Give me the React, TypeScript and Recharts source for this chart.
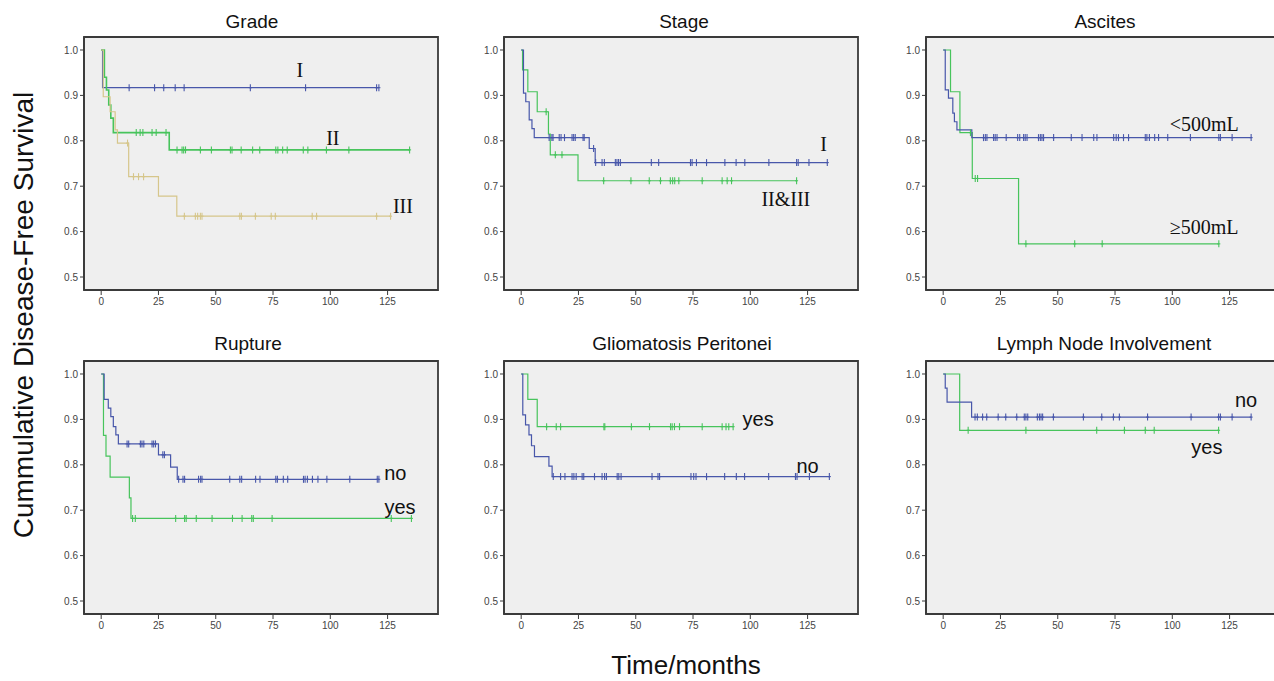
import React from 'react';
import { LineChart, Line, XAxis, YAxis, ReferenceArea, ReferenceDot } from 'recharts';

// ---------- axis settings ----------
const X_TICKS = [0, 25, 50, 75, 100, 125];
const Y_TICKS = [0.5, 0.6, 0.7, 0.8, 0.9, 1.0];
const XMIN = -7.5;
const XMAX = 147;
const YMIN = 0.4714;
const YMAX = 1.0286;

const BLUE = '#4857aa';
const GREEN = '#47c45c';
const TAN = '#d6c68b';

// ---------- Grade ----------
const gradeI_t = [0, 0.6];
const gradeI_s = [1.0, 0.917];
const gradeI_c = [12.2, 23.3, 27.3, 32.3, 36.2, 65.1, 89.2, 120.2, 121.2];
const gradeII_t = [0, 1.4, 2.3, 3.3, 4.2, 5.3, 29.7];
const gradeII_s = [1.0, 0.94, 0.912, 0.879, 0.85, 0.818, 0.78];
const gradeII_c = [15.3, 17, 18.2, 22.2, 24, 28.3, 33.1, 35.3, 36, 36.8, 43.3, 48.1, 56.4, 57.1, 61.1, 66.1, 69.2, 76.2, 77.1, 79.2, 81.2, 88.2, 90.2, 98.3, 108.1, 134.6];
const gradeIII_t = [0, 0.9, 3.9, 6.1, 7.1, 12, 25, 33];
const gradeIII_s = [1.0, 0.897, 0.864, 0.824, 0.795, 0.721, 0.678, 0.634];
const gradeIII_c = [11.5, 14.1, 16.3, 18.5, 36.3, 41.1, 42.1, 43.3, 44, 60.5, 61.2, 67.3, 74.2, 76, 92.1, 94, 120.2, 126.3];

// ---------- Stage ----------
const stageI_t = [0, 1.0, 2.0, 3.5, 4.7, 5.7, 29.7, 32.3];
const stageI_s = [1.0, 0.905, 0.886, 0.846, 0.827, 0.807, 0.783, 0.752];
const stageI_c = [12.2, 13.4, 13.9, 16.6, 17.4, 18.9, 22.2, 22.9, 23.6, 27, 27.5, 31.6, 32.5, 35.3, 36.3, 41.1, 41.8, 42.5, 43.3, 56.8, 60, 73.9, 74.6, 76.5, 80.9, 88.9, 93.8, 97.6, 108.1, 120.2, 120.9, 125.6, 133.6];
const stageII_t = [0, 0.6, 2.9, 7.0, 11.9, 12.7, 24.8];
const stageII_s = [1.0, 0.956, 0.908, 0.864, 0.815, 0.769, 0.712];
const stageII_c = [10.9, 14.9, 17.8, 36, 47.9, 55.9, 60.8, 65.1, 66.1, 67, 68.8, 79, 87.7, 89.9, 91.8, 120.2];

// ---------- Ascites ----------
const ascLow_t = [0, 0.9, 2.3, 4.2, 4.9, 6.0, 12.5];
const ascLow_s = [1.0, 0.912, 0.894, 0.861, 0.842, 0.824, 0.807];
const ascLow_c = [17.6, 18.4, 19.1, 22, 22.7, 23.5, 27.5, 32.5, 33.4, 35.1, 35.8, 36.6, 41.6, 42.4, 43.1, 43.8, 48.2, 55.9, 60.6, 65.7, 67.1, 74.4, 75.5, 76.5, 78.7, 80.9, 88.2, 88.9, 90, 92.3, 94, 98, 107.9, 120.3, 121, 126.1, 134.4];
const ascHigh_t = [0, 3.2, 7.3, 12.7, 32.9];
const ascHigh_s = [1.0, 0.908, 0.818, 0.717, 0.573];
const ascHigh_c = [11.9, 14, 15, 36.1, 57.4, 69.4, 120.3];

// ---------- Rupture ----------
const rupNo_t = [0, 1.3, 3.1, 4.2, 5.3, 6.4, 7.5, 25, 30.3, 33.2];
const rupNo_s = [1.0, 0.944, 0.925, 0.906, 0.884, 0.866, 0.846, 0.822, 0.795, 0.768];
const rupNo_c = [11.3, 12, 17.1, 17.8, 18.6, 22.2, 22.9, 23.7, 26.9, 27.6, 33.8, 35.7, 36.4, 42.5, 43.4, 44, 56.1, 60.5, 61.3, 67.4, 69.3, 76.2, 76.9, 79.5, 81.4, 88.3, 89, 90, 92.2, 94.6, 98.5, 108.5, 120.5, 121.2];
const rupYes_t = [0, 1.0, 2.1, 3.9, 12.3, 13];
const rupYes_s = [1.0, 0.865, 0.819, 0.773, 0.727, 0.682];
const rupYes_c = [13.7, 14.9, 32.5, 36.4, 37.1, 41.5, 48.4, 57.3, 61.5, 65.7, 66.4, 74.6, 126.6, 135.4];

// ---------- Gliomatosis Peritonei ----------
const glioYes_t = [0, 2.9, 7.0];
const glioYes_s = [1.0, 0.944, 0.884];
const glioYes_c = [11.1, 15.3, 17.2, 36.1, 36.5, 48.1, 56, 65.2, 65.9, 66.9, 69.1, 79, 87.7, 89.4, 90.6, 92.5];
const glioNo_t = [0, 0.7, 1.9, 3.4, 4.5, 5.8, 12.1, 13.5];
const glioNo_s = [1.0, 0.91, 0.888, 0.866, 0.842, 0.818, 0.797, 0.774];
const glioNo_c = [14, 17.2, 19.1, 22.2, 23, 24, 26.6, 27.3, 32, 35.3, 36.4, 37.2, 41.9, 42.6, 43.6, 57.1, 59.7, 60.4, 74.1, 75.3, 76.3, 80.9, 88.8, 93.9, 97.5, 108, 119.7, 120.4, 125.8, 134.5];

// ---------- Lymph Node Involvement ----------
const lymNo_t = [0, 0.9, 1.7, 12.4];
const lymNo_s = [1.0, 0.969, 0.938, 0.905];
const lymNo_c = [13.9, 14.9, 17.2, 19, 24, 27.3, 32.1, 35.4, 36.1, 36.9, 41.1, 42, 42.7, 43.4, 48.1, 61.2, 69.2, 74.3, 76.9, 89.2, 108.2, 120.2, 121, 126.1, 134.4];
const lymYes_t = [0, 7.2];
const lymYes_s = [1.0, 0.876];
const lymYes_c = [10.9, 36.1, 67, 79.1, 88.2, 92.1, 120.2];

type Series = { t: number[]; s: number[]; c: number[]; color: string; width?: number };
type Lbl = { text: string; x: number; y: number; serif: boolean };
type Panel = { title: string; titleX: number; left: number; top: number; titleY: number; series: Series[]; labels: Lbl[] };

const panels: Panel[] = [
  {
    title: 'Grade', titleX: 252, left: 84, top: 37, titleY: 27.5,
    series: [
      { t: gradeI_t, s: gradeI_s, c: gradeI_c, color: BLUE },
      { t: gradeII_t, s: gradeII_s, c: gradeII_c, color: GREEN, width: 1.6 },
      { t: gradeIII_t, s: gradeIII_s, c: gradeIII_c, color: TAN },
    ],
    labels: [
      { text: 'I', x: 86.7, y: 0.955, serif: true },
      { text: 'II', x: 101.1, y: 0.806, serif: true },
      { text: 'III', x: 131.7, y: 0.656, serif: true },
    ],
  },
  {
    title: 'Stage', titleX: 684, left: 504, top: 37, titleY: 27.5,
    series: [
      { t: stageII_t, s: stageII_s, c: stageII_c, color: GREEN },
      { t: stageI_t, s: stageI_s, c: stageI_c, color: BLUE },
    ],
    labels: [
      { text: 'I', x: 132, y: 0.793, serif: true },
      { text: 'II&III', x: 115.5, y: 0.672, serif: true },
    ],
  },
  {
    title: 'Ascites', titleX: 1105, left: 926, top: 37, titleY: 27.5,
    series: [
      { t: ascHigh_t, s: ascHigh_s, c: ascHigh_c, color: GREEN },
      { t: ascLow_t, s: ascLow_s, c: ascLow_c, color: BLUE },
    ],
    labels: [
      { text: '<500mL', x: 113.9, y: 0.836, serif: true },
      { text: '≥500mL', x: 113.9, y: 0.61, serif: true },
    ],
  },
  {
    title: 'Rupture', titleX: 248, left: 84, top: 361, titleY: 350,
    series: [
      { t: rupYes_t, s: rupYes_s, c: rupYes_c, color: GREEN },
      { t: rupNo_t, s: rupNo_s, c: rupNo_c, color: BLUE },
    ],
    labels: [
      { text: 'no', x: 128.4, y: 0.783, serif: false },
      { text: 'yes', x: 130.4, y: 0.708, serif: false },
    ],
  },
  {
    title: 'Gliomatosis Peritonei', titleX: 682, left: 504, top: 361, titleY: 350,
    series: [
      { t: glioYes_t, s: glioYes_s, c: glioYes_c, color: GREEN },
      { t: glioNo_t, s: glioNo_s, c: glioNo_c, color: BLUE },
    ],
    labels: [
      { text: 'yes', x: 103.4, y: 0.9, serif: false },
      { text: 'no', x: 125, y: 0.797, serif: false },
    ],
  },
  {
    title: 'Lymph Node Involvement', titleX: 1104, left: 926, top: 361, titleY: 350,
    series: [
      { t: lymYes_t, s: lymYes_s, c: lymYes_c, color: GREEN },
      { t: lymNo_t, s: lymNo_s, c: lymNo_c, color: BLUE },
    ],
    labels: [
      { text: 'no', x: 132.2, y: 0.943, serif: false },
      { text: 'yes', x: 115.1, y: 0.84, serif: false },
    ],
  },
];

const stepValue = (ser: Series, time: number) => {
  let v = ser.s[0];
  for (let i = 0; i < ser.t.length; i++) if (ser.t[i] <= time) v = ser.s[i];
  return v;
};

const curveData = (ser: Series) => {
  const pts = ser.t.map((tt, i) => ({ t: tt, s: ser.s[i] }));
  const end = ser.c[ser.c.length - 1];
  pts.push({ t: end, s: ser.s[ser.s.length - 1] });
  return pts;
};

const censorData = (ser: Series) => ser.c.map((tt) => ({ t: tt, s: stepValue(ser, tt) }));

const makeTick = (color: string) => (p: any) => {
  if (p.cx == null || p.cy == null) return <g key={p.index} />;
  return (
    <g key={`c-${p.index}`}>
      <line x1={p.cx} x2={p.cx} y1={p.cy - 3.5} y2={p.cy + 3.5} stroke={color} strokeWidth={1.1} />
      <line x1={p.cx - 1.5} x2={p.cx + 1.5} y1={p.cy} y2={p.cy} stroke={color} strokeWidth={1.1} />
    </g>
  );
};

const FRAME = '#3a3a3a';
const TICK_STYLE = { fontSize: 10, fill: '#444', fontFamily: 'Liberation Sans, Arial, sans-serif' };

function PanelChart({ panel }: { panel: Panel }) {
  return (
    <div style={{ position: 'absolute', left: panel.left - 40, top: panel.top - 10 }}>
      <LineChart width={400} height={288} margin={{ top: 10, right: 6, bottom: 5, left: 0 }}>
        <XAxis
          type="number"
          dataKey="t"
          domain={[XMIN, XMAX]}
          ticks={X_TICKS}
          allowDataOverflow
          height={20}
          tick={TICK_STYLE}
          tickSize={5}
          tickMargin={3}
          axisLine={{ stroke: FRAME, strokeWidth: 1.8 }}
          tickLine={{ stroke: FRAME, strokeWidth: 1 }}
        />
        <YAxis
          type="number"
          dataKey="s"
          domain={[YMIN, YMAX]}
          ticks={Y_TICKS}
          allowDataOverflow
          width={40}
          tick={TICK_STYLE}
          tickSize={4}
          tickMargin={2}
          tickFormatter={(v: number) => v.toFixed(1)}
          axisLine={{ stroke: FRAME, strokeWidth: 1.8 }}
          tickLine={{ stroke: FRAME, strokeWidth: 1 }}
        />
        <ReferenceArea x1={XMIN} x2={XMAX} y1={YMIN} y2={YMAX} fill="#efefef" fillOpacity={1} stroke={FRAME} strokeWidth={1.8} ifOverflow="visible" />
        {panel.series.map((ser, i) => (
          <Line
            key={`l${i}`}
            data={curveData(ser)}
            dataKey="s"
            type="stepAfter"
            stroke={ser.color}
            strokeWidth={ser.width ?? 1.2}
            dot={false}
            activeDot={false}
            isAnimationActive={false}
          />
        ))}
        {panel.series.map((ser, i) => (
          <Line
            key={`c${i}`}
            data={censorData(ser)}
            dataKey="s"
            stroke="none"
            dot={makeTick(ser.color)}
            activeDot={false}
            isAnimationActive={false}
          />
        ))}
        {panel.labels.map((lb, i) => (
          <ReferenceDot
            key={`r${i}`}
            x={lb.x}
            y={lb.y}
            r={0}
            ifOverflow="visible"
            shape={(p: any) => (
              <text
                x={p.cx}
                y={p.cy}
                textAnchor="middle"
                dominantBaseline="central"
                fontSize={20}
                fill="#111"
                fontFamily={lb.serif ? 'Liberation Serif, Times New Roman, serif' : 'Liberation Sans, Arial, sans-serif'}
              >
                {lb.text}
              </text>
            )}
          />
        ))}
      </LineChart>
    </div>
  );
}

export default function App() {
  return (
    <div style={{ position: 'absolute', left: 0, top: 0, width: 1274, height: 681, overflow: 'hidden', background: '#fff' }}>
      <svg width={1274} height={681} style={{ position: 'absolute', left: 0, top: 0 }}>
        {panels.map((p, i) => (
          <text key={i} x={p.titleX} y={p.titleY} textAnchor="middle" fontSize={19} fill="#111" fontFamily="Liberation Sans, Arial, sans-serif">
            {p.title}
          </text>
        ))}
        <text transform="translate(33,315) rotate(-90)" textAnchor="middle" fontSize={28} fill="#111" fontFamily="Liberation Sans, Arial, sans-serif">
          Cummulative Disease-Free Survival
        </text>
        <text x={686} y={674} textAnchor="middle" fontSize={26} fill="#111" fontFamily="Liberation Sans, Arial, sans-serif">
          Time/months
        </text>
      </svg>
      {panels.map((p, i) => (
        <PanelChart key={i} panel={p} />
      ))}
    </div>
  );
}
